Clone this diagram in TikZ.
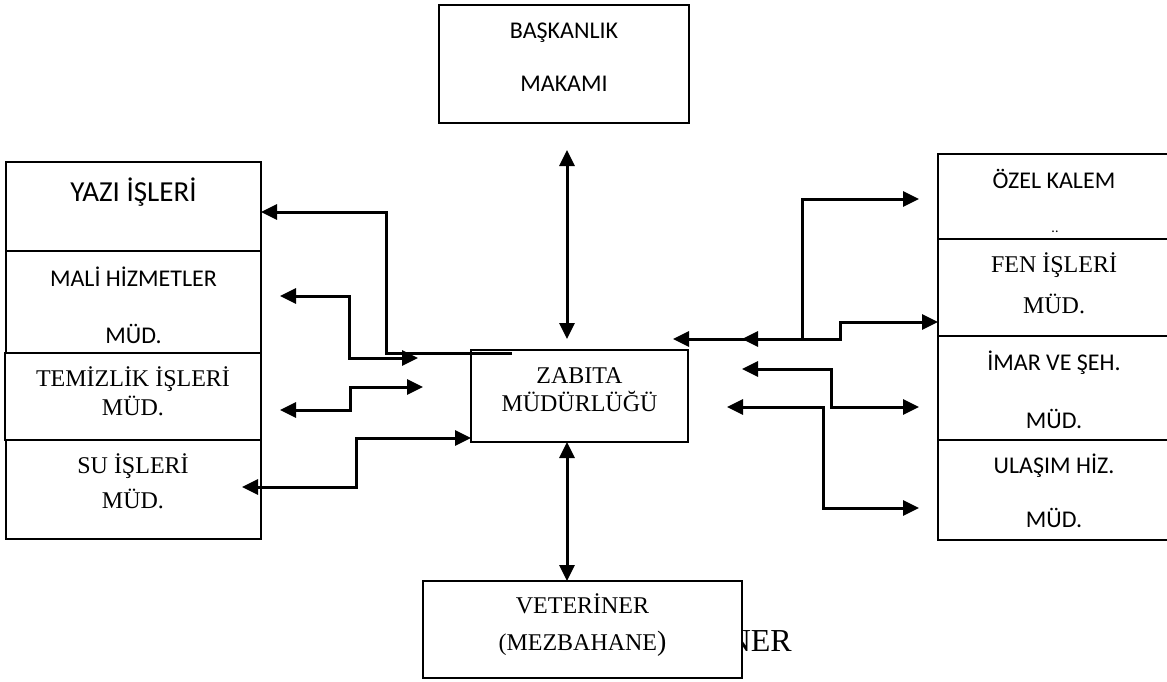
\documentclass[tikz,border=0pt]{standalone}
\usepackage{fontspec}
\usetikzlibrary{arrows.meta}
\newfontfamily\calfont{Carlito}
\newfontfamily\timesfont{Liberation Serif}
\begin{document}
\begin{tikzpicture}[x=1pt,y=-1pt,
  box/.style={draw, fill=white, line width=1.8pt, inner sep=0pt, outer sep=0pt},
  sans/.style={font=\calfont\fontsize{24}{28}\selectfont, anchor=base, inner sep=0pt},
  serif/.style={font=\timesfont\fontsize{24}{28}\selectfont, anchor=base, inner sep=0pt},
  conn/.style={line width=3pt},
  both/.style={conn, {Triangle[length=16pt,width=15pt]}-{Triangle[length=16pt,width=15pt]}},
  single/.style={conn, -{Triangle[length=16pt,width=15pt]}}]
\useasboundingbox (0,0) rectangle (1167,682);

% text partly hidden behind the veterinary box
\node[font=\timesfont\fontsize{32}{36}\selectfont, anchor=base east, inner sep=0pt] (ner) at (792,651) {NER};

% boxes
\node[box, minimum width=250pt, minimum height=118pt] (bask) at (564,64) {};
\node[box, minimum width=255pt, minimum height=89pt] (yazi) at (133.5,206.5) {};
\node[box, minimum width=255pt, minimum height=102pt] (mali) at (133.5,302) {};
\node[box, minimum width=256pt, minimum height=87pt] (temiz) at (133,396.5) {};
\node[box, minimum width=255pt, minimum height=99pt] (su) at (133.5,489.5) {};
\node[box, minimum width=217pt, minimum height=92pt] (zabita) at (579.5,396) {};
\node[box, minimum width=232pt, minimum height=85pt] (ozel) at (1054,196.5) {};
\node[box, minimum width=232pt, minimum height=97pt] (fen) at (1054,287.5) {};
\node[box, minimum width=232pt, minimum height=104pt] (imar) at (1054,388) {};
\node[box, minimum width=232pt, minimum height=100pt] (ulasim) at (1054,490) {};
\node[box, minimum width=319pt, minimum height=97pt] (vet) at (582.5,629.5) {};

% texts
\node[sans] (t1) at (564,39) {BAŞKANLIK};
\node[sans] (t2) at (564,92) {MAKAMI};
\node[sans, font=\calfont\fontsize{29}{32}\selectfont] (t3) at (133.5,201) {YAZI İŞLERİ};
\node[sans] (t4) at (133.5,286) {MALİ HİZMETLER};
\node[sans] (t5) at (133.5,343) {MÜD.};
\node[serif] (t6) at (133,386) {TEMİZLİK İŞLERİ};
\node[serif] (t7) at (133,415) {MÜD.};
\node[serif] (t8) at (133,473) {SU İŞLERİ};
\node[serif] (t9) at (133,508) {MÜD.};
\node[serif] (t10) at (579.5,383) {ZABITA};
\node[serif] (t11) at (579.5,411) {MÜDÜRLÜĞÜ};
\node[sans] (t12) at (1054,188) {ÖZEL KALEM};
\node[sans, font=\calfont\fontsize{14}{16}\selectfont] (t13) at (1055,232) {..};
\node[serif] (t14) at (1054,272) {FEN İŞLERİ};
\node[serif] (t15) at (1054,313) {MÜD.};
\node[sans] (t16) at (1054,370) {İMAR VE ŞEH.};
\node[sans] (t17) at (1054,428) {MÜD.};
\node[sans] (t18) at (1054,473) {ULAŞIM HİZ.};
\node[sans] (t19) at (1054,527) {MÜD.};
\node[serif] (t20) at (582.5,613) {VETERİNER};
\node[serif] (t21) at (582.5,650) {(MEZBAHANE{\fontsize{28}{30}\selectfont)}};

% connector end points
\coordinate (vt1) at (567,150);
\coordinate (vt2) at (567,339);
\coordinate (ya0) at (512,353);
\coordinate (ya1) at (386,212);
\coordinate (ma0) at (280,296);
\coordinate (ma1) at (418,358);
\coordinate (te0) at (280,410);
\coordinate (te1) at (423,387);
\coordinate (su0) at (242,487);
\coordinate (su1) at (356,438);
\coordinate (oz0) at (673,339);
\coordinate (oz1) at (919,199);
\coordinate (fe0) at (742,339);
\coordinate (fe1) at (840,322);
\coordinate (im0) at (742,369);
\coordinate (im1) at (919,407);
\coordinate (ul0) at (727,407);
\coordinate (ul1) at (919,508);

% connectors
\draw[both] (vt1) -- (vt2);
\draw[both] (zabita.south -| vt1) -- (vet.north -| vt1);
\draw[single] (ya0) -- (ya0 -| ya1) -- (ya1) -- (yazi.east |- ya1);
\draw[both] (ma0) -- (349,296) -- (349,358) -- (ma1);
\draw[both] (te0) -- (350,410) -- (350,387) -- (te1);
\draw[both] (su0) -- (su1 |- su0) -- (su1) -- (zabita.west |- su1);
\draw[both] (oz0) -- (802,339) -- (802,199) -- (oz1);
\draw[both] (fe0) -- (fe1 |- fe0) -- (fe1) -- (fen.west |- fe1);
\draw[both] (im0) -- (831,369) -- (831,407) -- (im1);
\draw[both] (ul0) -- (823,407) -- (823,508) -- (ul1);
\end{tikzpicture}
\end{document}
